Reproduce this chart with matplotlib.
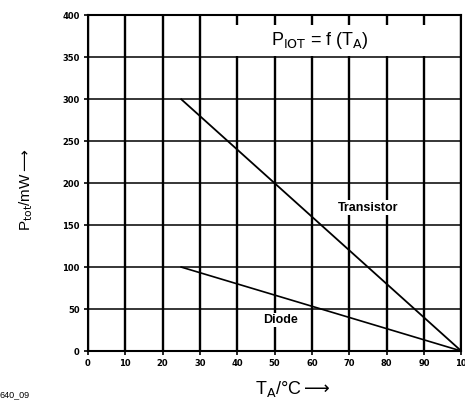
import matplotlib
matplotlib.use("Agg")
import matplotlib.pyplot as plt
from matplotlib.patches import Rectangle

# 数据：功耗降额曲线
temp_transistor = [25, 100]
ptot_transistor = [300, 0]
temp_diode = [25, 100]
ptot_diode = [100, 0]

x_ticks = [0, 10, 20, 30, 40, 50, 60, 70, 80, 90, 100]
x_tick_labels = ["0", "10", "20", "30", "40", "50", "60", "70", "80", "90", "10"]
y_ticks = [0, 50, 100, 150, 200, 250, 300, 350, 400]
y_tick_labels = ["0", "50", "100", "150", "200", "250", "300", "350", "400"]

plt.rcParams["font.family"] = ["Liberation Sans", "DejaVu Sans"]

fig = plt.figure(figsize=(4.65, 4.03), dpi=100)
ax = fig.add_axes([0.189, 0.129, 0.803, 0.833])

ax.set_xlim(0, 100)
ax.set_ylim(0, 400)

# 网格：竖线较粗
for xv in x_ticks:
    ax.axvline(xv, color="black", lw=1.7, zorder=1)
for yv in y_ticks:
    ax.axhline(yv, color="black", lw=1.1, zorder=1)

ax.plot(temp_transistor, ptot_transistor, color="black", lw=1.3, zorder=3)
ax.plot(temp_diode, ptot_diode, color="black", lw=1.2, zorder=3)

ax.set_xticks(x_ticks)
ax.set_xticklabels(x_tick_labels)
ax.set_yticks(y_ticks)
ax.set_yticklabels(y_tick_labels)
ax.tick_params(axis="both", length=3, width=1.2, labelsize=6, pad=3)
for lbl in ax.get_xticklabels() + ax.get_yticklabels():
    lbl.set_fontweight("heavy")
    lbl.set_family("DejaVu Sans")
for sp in ax.spines.values():
    sp.set_linewidth(1.5)

# 标题框（白底盖住网格）
ax.add_patch(Rectangle((36.5, 352), 58, 36, facecolor="white",
                       edgecolor="none", zorder=4))
ax.text(62, 370, r"P$_{\mathrm{IOT}}$ = f (T$_{\mathrm{A}}$)", fontsize=13,
        ha="center", va="center", zorder=5)
ax.text(75, 171, "Transistor", fontsize=9, fontweight="bold",
        ha="center", va="center", zorder=4,
        bbox=dict(facecolor="white", edgecolor="none", pad=1))
ax.text(51.5, 37, "Diode", fontsize=9, fontweight="bold",
        ha="center", va="center", zorder=4,
        bbox=dict(facecolor="white", edgecolor="none", pad=1))

fig.text(0.056, 0.53, r"P$_{\mathrm{tot}}$/mW$\longrightarrow$", rotation=90,
         fontsize=11, ha="center", va="center")
fig.text(0.63, 0.035, r"T$_{\mathrm{A}}$/°C$\longrightarrow$",
         fontsize=13, ha="center", va="center")
fig.text(0.0, 0.02, "640_09", fontsize=6.5, ha="left", va="center")

fig.savefig("out.png", dpi=100)
plt.close(fig)
